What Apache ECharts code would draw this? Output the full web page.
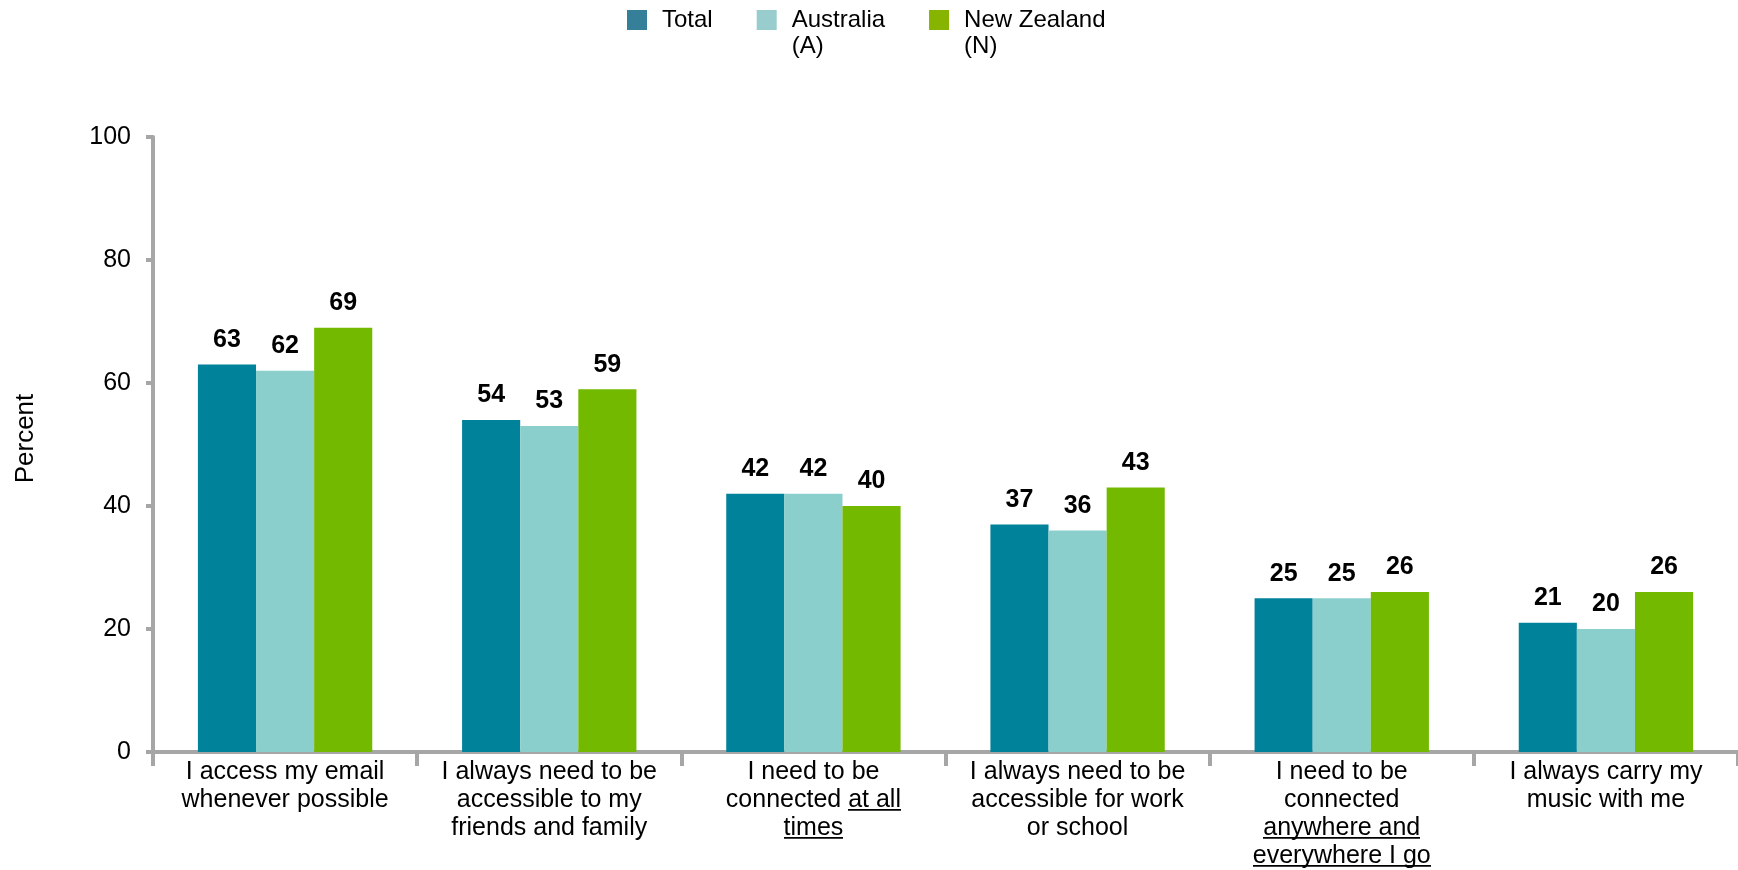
<!DOCTYPE html>
<html>
<head>
<meta charset="utf-8">
<script src="https://cdn.jsdelivr.net/npm/echarts@6/dist/echarts.min.js"></script>
<style>
html,body{margin:0;padding:0;background:#fff;}
#chart{width:1738px;height:870px;}
</style>
</head>
<body>
<div id="chart"></div>
<script>
const categories = [
  "I access my email\nwhenever possible",
  "I always need to be\naccessible to my\nfriends and family",
  "I need to be\nconnected at all\ntimes",
  "I always need to be\naccessible for work\nor school",
  "I need to be\nconnected\nanywhere and\neverywhere I go",
  "I always carry my\nmusic with me"
];
const underlined = ["at all", "times", "anywhere and", "everywhere I go"];
const seriesNames = ["Total", "Australia\n(A)", "New Zealand\n(N)"];
const totalValues = [63, 54, 42, 37, 25, 21];
const australiaValues = [62, 53, 42, 36, 25, 20];
const newZealandValues = [69, 59, 40, 43, 26, 26];
const yTicks = [0, 20, 40, 60, 80, 100];

const FONT = "'Liberation Sans', Arial, sans-serif";
const barColors = ["#00829A", "#8BCFCD", "#72B900"];
const legendColors = ["#357F98", "#99CCCC", "#86B400"];

// underline image (transparent with a line near the bottom of the line box)
const ul = document.createElement('canvas');
ul.width = 8; ul.height = 28;
const uctx = ul.getContext('2d');
uctx.fillStyle = '#000';
uctx.fillRect(0, 24, 8, 2);

function fmt(v) {
  let s = v;
  underlined.forEach(p => { s = s.split(p).join('{u|' + p + '}'); });
  return s;
}

const chart = echarts.init(document.getElementById('chart'), null, {renderer: 'canvas'});
const dataSets = [totalValues, australiaValues, newZealandValues];
chart.setOption({
  animation: false,
  backgroundColor: '#fff',
  textStyle: {fontFamily: FONT},
  legend: {
    top: -19,
    left: 627,
    padding: 0,
    itemWidth: 20,
    itemHeight: 20,
    itemGap: 44,
    icon: 'rect',
    selectedMode: false,
    formatter: name => name.split('\n').map(l => '{n|' + l + '}').join('\n'),
    textStyle: {
      fontSize: 24, color: '#000', lineHeight: 26, fontFamily: FONT,
      rich: {n: {fontSize: 24, lineHeight: 26, color: '#000', fontFamily: FONT}}
    },
    data: [
      {name: seriesNames[0], itemStyle: {color: legendColors[0]}, textStyle: {padding: [0, 0, 0, 10]}},
      {name: seriesNames[1], itemStyle: {color: legendColors[1]}, textStyle: {padding: [26, 0, 0, 10]}},
      {name: seriesNames[2], itemStyle: {color: legendColors[2]}, textStyle: {padding: [26, 0, 0, 10]}}
    ]
  },
  grid: {left: 153, right: 0, top: 137, bottom: 116, containLabel: false},
  xAxis: {
    type: 'category',
    data: categories,
    boundaryGap: true,
    axisLine: {show: true, lineStyle: {color: '#A6A6A6', width: 4}},
    axisTick: {show: true, length: 14, lineStyle: {color: '#A6A6A6', width: 4}, alignWithLabel: false},
    axisLabel: {
      interval: 0,
      margin: 6,
      color: '#000',
      fontSize: 25,
      lineHeight: 28,
      fontFamily: FONT,
      formatter: fmt,
      rich: {
        u: {fontSize: 25, lineHeight: 28, color: '#000', fontFamily: FONT, backgroundColor: {image: ul}}
      }
    },
    splitLine: {show: false}
  },
  yAxis: {
    type: 'value',
    min: yTicks[0],
    max: yTicks[yTicks.length - 1],
    interval: yTicks[1] - yTicks[0],
    name: 'Percent',
    nameLocation: 'middle',
    nameRotate: 90,
    nameGap: 114,
    nameTextStyle: {fontSize: 26, color: '#000', fontFamily: FONT, padding: [0, 0, 0, 12]},
    axisLine: {show: true, lineStyle: {color: '#A6A6A6', width: 4}},
    axisTick: {show: true, length: 7, lineStyle: {color: '#A6A6A6', width: 4}},
    axisLabel: {margin: 22, color: '#000', fontSize: 25, fontFamily: FONT},
    splitLine: {show: false}
  },
  series: seriesNames.map((n, i) => ({
    name: n,
    type: 'bar',
    data: dataSets[i],
    barGap: '0%',
    barCategoryGap: '34%',
    itemStyle: {color: barColors[i]},
    label: {
      show: true,
      position: 'top',
      distance: 12,
      color: '#000',
      fontSize: 25,
      fontWeight: 'bold',
      fontFamily: FONT
    }
  }))
});
</script>
</body>
</html>
